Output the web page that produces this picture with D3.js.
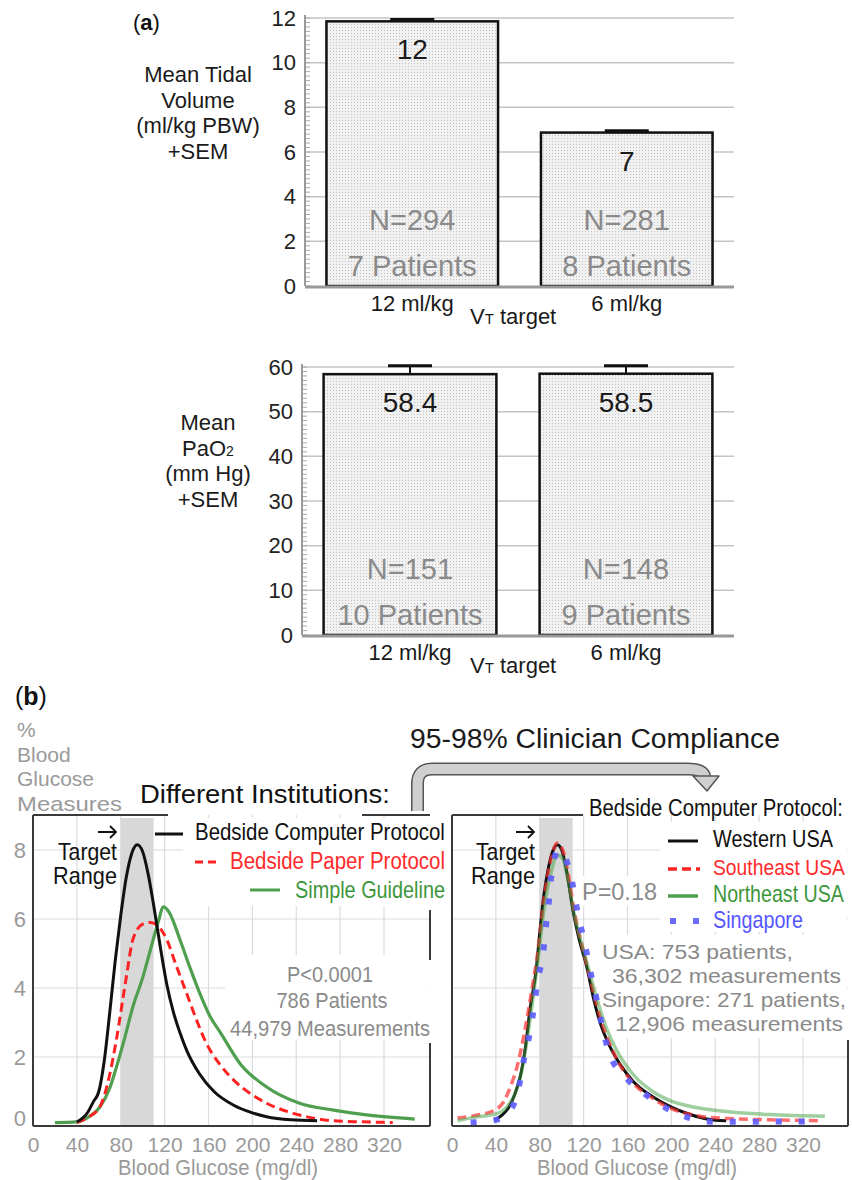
<!DOCTYPE html>
<html>
<head>
<meta charset="utf-8">
<script src="https://cdnjs.cloudflare.com/ajax/libs/d3/7.8.5/d3.min.js"></script>
<style>
body { margin: 0; background: #fff; }
text { font-family: "Liberation Sans", Arial, sans-serif; }
</style>
</head>
<body>
<script>
// ---- panel (a) data ----
var vtCategories = ["12 ml/kg", "6 ml/kg"];
var vtMeans = [11.85, 6.87];
var vtSem = [0.08, 0.08];
var vtLabels = ["12", "7"];
var vtN = ["N=294", "N=281"];
var vtPatients = ["7 Patients", "8 Patients"];
var vtTicks = [0, 2, 4, 6, 8, 10, 12];

var paoCategories = ["12 ml/kg", "6 ml/kg"];
var paoMeans = [58.4, 58.5];
var paoSem = [1.9, 1.8];
var paoLabels = ["58.4", "58.5"];
var paoN = ["N=151", "N=148"];
var paoPatients = ["10 Patients", "9 Patients"];
var paoTicks = [0, 10, 20, 30, 40, 50, 60];

// ---- panel (b) data ----
var glucoseTicks = [0, 40, 80, 120, 160, 200, 240, 280, 320];
var pctTicks = [0, 2, 4, 6, 8];
var targetRange = [80, 110];

// different institutions
var computerX = [40, 50, 55, 60, 65, 70, 75, 80, 85, 90, 95, 100, 105, 110, 116, 122, 128, 134, 140, 152, 165, 183, 200, 213, 235, 259];
var computerY = [0.12, 0.4, 0.7, 1.0, 1.9, 3.3, 4.8, 6.1, 7.2, 7.9, 8.15, 7.95, 7.3, 6.4, 5.2, 4.1, 3.3, 2.7, 2.2, 1.5, 1.0, 0.6, 0.38, 0.27, 0.18, 0.15];
var paperX = [40, 50, 61, 70, 76, 85, 91, 100, 107, 114, 122, 130, 140, 150, 158, 170, 183, 200, 213, 243, 274, 300, 328];
var paperY = [0.1, 0.25, 0.56, 1.5, 2.5, 4.3, 5.4, 5.85, 5.9, 5.8, 5.4, 4.7, 3.85, 3.0, 2.4, 1.8, 1.33, 0.9, 0.66, 0.32, 0.15, 0.12, 0.1];
var guidelineX = [20, 40, 50, 61, 70, 76, 84, 91, 100, 107, 114, 119, 124, 134, 143, 152, 161, 171, 189, 213, 243, 274, 304, 348];
var guidelineY = [0.1, 0.12, 0.25, 0.55, 1.1, 1.7, 2.6, 3.45, 4.3, 5.1, 5.9, 6.35, 6.2, 5.4, 4.6, 3.85, 3.2, 2.7, 1.8, 1.13, 0.66, 0.46, 0.32, 0.2];

// bedside computer protocol by region
var westernX = [39, 45, 52, 57, 62, 67, 71, 77, 80, 83, 88, 93, 96, 100, 105, 110, 116, 123, 129, 135, 144, 153, 165, 183, 200, 214, 230, 250];
var westernY = [0.17, 0.3, 0.55, 0.9, 1.4, 2.3, 3.35, 4.6, 5.6, 6.5, 7.5, 8.05, 8.15, 8.0, 7.3, 6.3, 5.4, 4.6, 3.7, 3.0, 2.3, 1.8, 1.3, 0.85, 0.55, 0.37, 0.22, 0.15];
var southeastX = [5, 20, 39, 47, 54, 60, 66, 72, 78, 84, 90, 96, 101, 106, 111, 118, 125, 132, 140, 150, 165, 183, 200, 220, 250, 290, 336];
var southeastY = [0.23, 0.3, 0.46, 0.7, 1.2, 1.8, 2.7, 3.8, 5.0, 6.6, 7.7, 8.2, 8.0, 7.3, 6.3, 5.3, 4.4, 3.5, 2.7, 1.95, 1.25, 0.8, 0.5, 0.32, 0.22, 0.18, 0.15];
var northeastX = [5, 20, 40, 50, 57, 63, 68, 73, 78, 84, 90, 96, 101, 106, 111, 118, 125, 132, 140, 150, 165, 183, 200, 220, 250, 290, 340];
var northeastY = [0.15, 0.25, 0.35, 0.55, 0.9, 1.5, 2.4, 3.5, 4.7, 6.3, 7.3, 7.85, 7.75, 7.1, 6.2, 5.3, 4.5, 3.7, 2.9, 2.2, 1.5, 1.0, 0.72, 0.55, 0.42, 0.33, 0.28];
var singaporeX = [17, 39, 55, 62, 66, 71, 75, 78, 83, 86, 88, 90, 97, 103, 110, 115, 121, 126, 132, 137, 144, 155, 175, 193, 213, 232, 260, 300, 336];
var singaporeY = [0.1, 0.17, 0.55, 1.3, 2.0, 2.7, 3.5, 4.2, 5.0, 5.9, 6.4, 7.1, 8.0, 7.8, 7.0, 6.1, 5.3, 4.5, 3.65, 2.87, 2.05, 1.53, 0.95, 0.56, 0.27, 0.13, 0.12, 0.13, 0.13];

var svgWidth = 852;
var svgHeight = 1180;

var svg = d3.select("body")
    .append("svg")
    .attr("width", svgWidth)
    .attr("height", svgHeight);

// stippled bar fill
var pat = svg.append("defs").append("pattern")
    .attr("id", "stipple")
    .attr("width", 3).attr("height", 3)
    .attr("patternUnits", "userSpaceOnUse");
pat.append("rect").attr("width", 3).attr("height", 3).attr("fill", "#f1f1f1");
pat.append("rect").attr("width", 1).attr("height", 1).attr("fill", "#c2c2c2");

// small text helper; "width" squeezes the text horizontally (the source font is condensed)
function label(str, x, y, o) {
    o = o || {};
    var t = svg.append("text")
        .attr("x", x).attr("y", y)
        .attr("font-size", o.size || 22)
        .attr("fill", o.fill || "#111")
        .attr("text-anchor", o.anchor || "start")
        .text(str);
    if (o.width) {
        var sx = o.width / t.node().getComputedTextLength();
        t.attr("x", 0).attr("y", 0)
            .attr("transform", `translate(${x},${y}) scale(${sx.toFixed(3)},1)`);
    }
    return t;
}

function drawBarChart(cfg) {
    var yScale = d3.scaleLinear().domain([0, cfg.max]).range([cfg.bottom, cfg.top]);
    var xScale = d3.scaleBand()
        .domain(cfg.categories)
        .range([cfg.left, 734])
        .paddingInner(0.2)
        .paddingOuter(0.1);

    var g = svg.append("g");

    // gridlines
    g.selectAll(".grid")
        .data(cfg.ticks.slice(1))
        .enter()
        .append("line")
        .attr("x1", cfg.left).attr("x2", 734)
        .attr("y1", d => yScale(d)).attr("y2", d => yScale(d))
        .attr("stroke", "#c4c4c4")
        .attr("stroke-width", 1.5);

    // minor ticks
    g.selectAll(".minor")
        .data(d3.range(0, cfg.max + 1e-9, cfg.minor))
        .enter()
        .append("line")
        .attr("x1", cfg.left).attr("x2", cfg.left + 5)
        .attr("y1", d => yScale(d)).attr("y2", d => yScale(d))
        .attr("stroke", "#aaa")
        .attr("stroke-width", 1);

    g.append("line")
        .attr("x1", cfg.left).attr("x2", cfg.left)
        .attr("y1", cfg.bottom).attr("y2", yScale(cfg.max) - 3)
        .attr("stroke", "#9a9a9a").attr("stroke-width", 2);

    var leftAxis = d3.axisLeft(yScale).tickValues(cfg.ticks).tickSize(0).tickPadding(9);
    var ax = g.append("g")
        .attr("transform", `translate(${cfg.left},0)`)
        .call(leftAxis);
    ax.select(".domain").remove();
    ax.selectAll("text").attr("fill", "#222").attr("font-size", 22);

    // bars
    g.selectAll(".bar")
        .data(cfg.means)
        .enter()
        .append("rect")
        .attr("x", (d, i) => xScale(cfg.categories[i]))
        .attr("y", d => yScale(d))
        .attr("width", xScale.bandwidth())
        .attr("height", d => cfg.bottom - yScale(d))
        .attr("fill", "url(#stipple)")
        .attr("stroke", "#111")
        .attr("stroke-width", 2.5);

    // baseline
    g.append("line")
        .attr("x1", cfg.left).attr("x2", 734)
        .attr("y1", cfg.bottom + 1).attr("y2", cfg.bottom + 1)
        .attr("stroke", "#999").attr("stroke-width", 3);

    // error bars
    cfg.means.forEach(function (m, i) {
        var cx = xScale(cfg.categories[i]) + xScale.bandwidth() / 2;
        g.append("line")
            .attr("x1", cx).attr("x2", cx)
            .attr("y1", yScale(m)).attr("y2", yScale(m + cfg.sem[i]))
            .attr("stroke", "#111").attr("stroke-width", 2);
        g.append("line")
            .attr("x1", cx - 22).attr("x2", cx + 22)
            .attr("y1", yScale(m + cfg.sem[i])).attr("y2", yScale(m + cfg.sem[i]))
            .attr("stroke", "#111").attr("stroke-width", 3);

        label(cfg.labels[i], cx, yScale(m) + 38, { anchor: "middle", size: 28, fill: "#1a1a1a" });
        label(cfg.n[i], cx, cfg.bottom - 56, { anchor: "middle", size: 29, fill: "#8a8a8a" });
        label(cfg.patients[i], cx, cfg.bottom - 10, { anchor: "middle", size: 29, fill: "#8a8a8a" });
        label(cfg.categories[i], cx, cfg.bottom + 25, { anchor: "middle", size: 22, fill: "#1a1a1a" });
    });

    var vt = label("V", 470, cfg.bottom + 38, { size: 22, fill: "#1a1a1a" });
    vt.append("tspan").attr("font-size", 15).text("T");
    vt.append("tspan").text(" target");

    cfg.ylabel.forEach(function (s, i) {
        var t = label(typeof s === "string" ? s : s[0], cfg.ylabelX, cfg.ylabelY + i * 25.5,
            { anchor: "middle", size: 22, fill: "#1a1a1a" });
        if (typeof s !== "string") t.append("tspan").attr("font-size", 14).text(s[1]);
    });
}

var ta = label("(", 133, 30, { size: 22 });
ta.append("tspan").attr("font-weight", "bold").text("a");
ta.append("tspan").text(")");

drawBarChart({
    categories: vtCategories, means: vtMeans, sem: vtSem, labels: vtLabels,
    n: vtN, patients: vtPatients, ticks: vtTicks,
    max: 12, minor: 0.2, top: 18, bottom: 286, left: 305,
    ylabel: ["Mean Tidal", "Volume", "(ml/kg PBW)", "+SEM"], ylabelX: 198, ylabelY: 82
});

drawBarChart({
    categories: paoCategories, means: paoMeans, sem: paoSem, labels: paoLabels,
    n: paoN, patients: paoPatients, ticks: paoTicks,
    max: 60, minor: 1, top: 367, bottom: 635, left: 302,
    ylabel: ["Mean", ["PaO", "2"], "(mm Hg)", "+SEM"], ylabelX: 208, ylabelY: 430
});

// ---- panel (b) ----
var tb = label("(", 15, 705, { size: 25 });
tb.append("tspan").attr("font-weight", "bold").text("b");
tb.append("tspan").text(")");

["%", "Blood", "Glucose", "Measures"].forEach(function (s, i) {
    label(s, 17, 737 + i * 24.5, { size: 21, fill: "#9a9a9a", width: i === 3 ? 105 : null });
});

var yB = d3.scaleLinear().domain([0, 8]).range([1126, 850]);
var xL = d3.scaleLinear().domain([0, 320]).range([33, 384]);
var xR = d3.scaleLinear().domain([0, 320]).range([452, 803]);

function drawGlucoseFrame(x, rightEdge, masks, showY, titleX) {
    var g = svg.append("g");
    g.selectAll(".vgrid")
        .data(glucoseTicks.slice(1))
        .enter()
        .append("line")
        .attr("x1", d => x(d)).attr("x2", d => x(d))
        .attr("y1", yB(0)).attr("y2", 815)
        .attr("stroke", "#dcdcdc").attr("stroke-width", 1.2);
    g.selectAll(".hgrid")
        .data(pctTicks.slice(1))
        .enter()
        .append("line")
        .attr("x1", x(0)).attr("x2", rightEdge)
        .attr("y1", d => yB(d)).attr("y2", d => yB(d))
        .attr("stroke", "#dcdcdc").attr("stroke-width", 1.2);

    g.append("rect")
        .attr("x", x(targetRange[0])).attr("y", 818)
        .attr("width", x(targetRange[1]) - x(targetRange[0]))
        .attr("height", yB(0) - 818)
        .attr("fill", "#d8d8d8");

    masks.forEach(function (m) {
        g.append("rect").attr("x", m[0]).attr("y", m[1]).attr("width", m[2]).attr("height", m[3]).attr("fill", "#fff");
    });

    var bottomAxis = d3.axisBottom(x).tickValues(glucoseTicks).tickSize(0).tickPadding(11);
    var bx = g.append("g")
        .attr("transform", `translate(0,${yB(0)})`)
        .call(bottomAxis);
    bx.select(".domain").remove();
    bx.selectAll("text").attr("fill", "#9a9a9a").attr("font-size", 21);

    if (showY) {
        var leftAxis = d3.axisLeft(yB).tickValues(pctTicks).tickSize(0).tickPadding(7);
        var lx = g.append("g")
            .attr("transform", `translate(${x(0)},0)`)
            .call(leftAxis);
        lx.select(".domain").remove();
        lx.selectAll("text").attr("fill", "#9a9a9a").attr("font-size", 22)
            .attr("y", d => d === 0 ? -8 : 0);
    }

    label("Blood Glucose (mg/dl)", titleX, 1175,
        { anchor: "middle", size: 22, fill: "#9a9a9a", width: 200 });
}

drawGlucoseFrame(xL, 430, [[183, 818, 246, 88], [225, 955, 204, 85]], true, 218);
drawGlucoseFrame(xR, 848, [[660, 822, 187, 110], [578, 876, 82, 30], [598, 935, 249, 103]], false, 637);

function curve(x, xs, ys, color, width, dash, opacity) {
    var line = d3.line()
        .x(d => x(d[0]))
        .y(d => yB(d[1]))
        .curve(d3.curveMonotoneX);
    svg.append("path")
        .datum(d3.zip(xs, ys))
        .attr("d", line)
        .attr("fill", "none")
        .attr("stroke", color)
        .attr("stroke-width", width)
        .attr("stroke-dasharray", dash)
        .attr("stroke-opacity", opacity || 1)
        .attr("stroke-linejoin", "round");
}

// left: institutions
curve(xL, guidelineX, guidelineY, "#4f9f4f", 3.2);
curve(xL, paperX, paperY, "#ff2222", 3, "9,5");
curve(xL, computerX, computerY, "#111", 3);

// right: regions
curve(xR, westernX, westernY, "#111", 3);
curve(xR, southeastX, southeastY, "#ff3030", 3.5, "9,5", 0.7);
curve(xR, northeastX, northeastY, "#3f9f3f", 3.5, null, 0.5);
curve(xR, singaporeX, singaporeY, "#5b5bff", 6, "6,17", 0.9);

// frames
var frame = "#3a3a3a";
[
    [33, 815, 168, 815], [362, 815, 430, 815], [33, 815, 33, 1126], [33, 1126, 430, 1126],
    [430, 910, 430, 960], [430, 1043, 430, 1126],
    [452, 815, 583, 815], [452, 815, 452, 1126], [452, 1126, 848, 1126], [848, 1040, 848, 1126]
].forEach(function (s) {
    svg.append("line")
        .attr("x1", s[0]).attr("y1", s[1]).attr("x2", s[2]).attr("y2", s[3])
        .attr("stroke", frame).attr("stroke-width", 2);
});

// target range labels
[117, 535].forEach(function (ex) {
    svg.append("path")
        .attr("d", `M${ex - 19},832 H${ex - 1} M${ex - 7},826 L${ex - 1},832 L${ex - 7},838`)
        .attr("fill", "none").attr("stroke", "#111").attr("stroke-width", 1.8);
    label("Target", ex, 860, { anchor: "end", size: 23, width: 59 });
    label("Range", ex, 884, { anchor: "end", size: 23, width: 64 });
});

// legends
function legendLine(x1, x2, y, color, width, dash, opacity) {
    svg.append("line")
        .attr("x1", x1).attr("x2", x2).attr("y1", y).attr("y2", y)
        .attr("stroke", color).attr("stroke-width", width)
        .attr("stroke-dasharray", dash)
        .attr("stroke-opacity", opacity || 1);
}

label("Different Institutions:", 140, 803, { size: 25, width: 250 });
legendLine(155, 183, 834, "#111", 3);
label("Bedside Computer Protocol", 195, 840, { size: 23, width: 250 });
legendLine(195, 217, 862, "#ff2222", 3, "8,5");
label("Bedside Paper Protocol", 230, 869, { size: 23, width: 215, fill: "#ff2a2a" });
legendLine(250, 280, 890, "#4f9f4f", 3);
label("Simple Guideline", 295, 898, { size: 23, width: 150, fill: "#3d963d" });

label("P<0.0001", 330, 982, { anchor: "middle", size: 22, width: 86, fill: "#8a8a8a" });
label("786 Patients", 332, 1008, { anchor: "middle", size: 22, width: 111, fill: "#8a8a8a" });
label("44,979 Measurements", 330, 1036, { anchor: "middle", size: 22, width: 200, fill: "#8a8a8a" });

label("95-98% Clinician Compliance", 410, 748, { size: 28, width: 370, fill: "#1a1a1a" });

// compliance arrow
svg.append("path")
    .attr("d", "M417.5,811 V784 Q417.5,769 432,769 H688 Q703,769 705,777")
    .attr("fill", "none").attr("stroke", "#555").attr("stroke-width", 13);
svg.append("path")
    .attr("d", "M417.5,811 V784 Q417.5,769 432,769 H688 Q703,769 705,777")
    .attr("fill", "none").attr("stroke", "#cfcfcf").attr("stroke-width", 10);
svg.append("path")
    .attr("d", "M693,776 L719,776 L707,791 Z")
    .attr("fill", "#cfcfcf").attr("stroke", "#555").attr("stroke-width", 1.5)
    .attr("stroke-linejoin", "round");

label("Bedside Computer Protocol:", 589, 816, { size: 23, width: 254 });
legendLine(668, 698, 841, "#111", 3);
label("Western USA", 713, 847, { size: 23, width: 120 });
legendLine(668, 700, 869, "#ff2222", 3.5, "9,5");
label("Southeast USA", 713, 875, { size: 23, width: 132, fill: "#ff2a2a" });
legendLine(668, 698, 896, "#4f9f4f", 3.5);
label("Northeast USA", 713, 902, { size: 23, width: 131, fill: "#3d963d" });
legendLine(670, 700, 921, "#5b5bff", 6, "6,17", 0.9);
label("Singapore", 713, 928, { size: 23, width: 90, fill: "#5555ff" });

label("P=0.18", 582, 900, { size: 23, width: 75, fill: "#8a8a8a" });
label("USA: 753 patients,", 602, 959, { size: 20.5, width: 191, fill: "#8a8a8a" });
label("36,302 measurements", 612, 983, { size: 20.5, width: 229, fill: "#8a8a8a" });
label("Singapore: 271 patients,", 602, 1007, { size: 20.5, width: 244, fill: "#8a8a8a" });
label("12,906 measurements", 615, 1031, { size: 20.5, width: 228, fill: "#8a8a8a" });
</script>
</body>
</html>
